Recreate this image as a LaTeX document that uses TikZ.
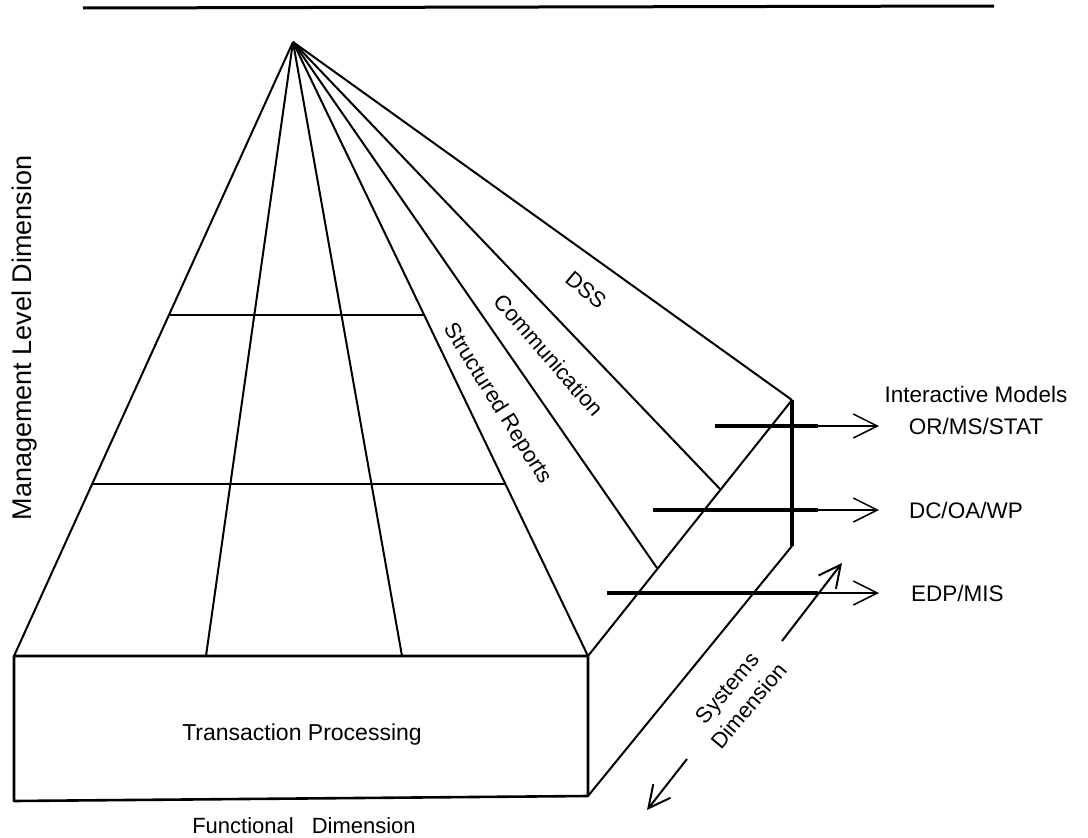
\documentclass[tikz,border=0pt]{standalone}
\usepackage{fontspec}
\setmainfont{Liberation Sans}
\usetikzlibrary{arrows.meta,calc}

\begin{document}
\begin{tikzpicture}[x=1pt,y=-1pt,line width=2pt,line join=round,
	lbl/.style={font=\fontsize{22}{28}\selectfont,inner sep=0pt},
	big lbl/.style={font=\fontsize{23}{28}\selectfont,inner sep=0pt},
	shaft/.style={line width=3.2pt},
	tip/.style={-{Straight Barb[length=24pt,width=24pt,line width=1.5pt]},line width=1.5pt},
	small tip/.style={-{Straight Barb[length=22pt,width=22pt,line width=2pt]},line width=2pt},
	boxedge/.style={line width=2.6pt}]

	\useasboundingbox (0,0) rectangle (1088,838);

	% pyramid corners
	\coordinate (apex) at (293,42);
	\coordinate (fl) at (14,656);
	\coordinate (f1) at (206,656);
	\coordinate (f2) at (402,656);
	\coordinate (fr) at (588,656);
	\coordinate (bl) at (14,801);
	\coordinate (br) at (588,796);
	\coordinate (s1) at (657,568);
	\coordinate (s2) at (720,489);
	\coordinate (st) at (792,400);
	\coordinate (sb) at (792,546);

	% rule on top
	\draw[line width=3pt] (83,8) -- (994,6);

	% faces
	\foreach \p in {fl,f1,f2,fr,s1,s2,st}
		\draw (apex) -- (\p);
	\draw ($(apex)!0.4446!(fl)$) -- ($(apex)!0.4446!(fr)$);
	\draw ($(apex)!0.7199!(fl)$) -- ($(apex)!0.7199!(fr)$);
	\draw[boxedge] (fl) -- (fr) -- (br) -- (bl) -- cycle;
	\draw (fr) -- (st);
	\draw (br) -- (sb);
	\draw[line width=3.8pt] (st) -- (sb);

	% system arrows
	\foreach \xs/\y in {715/426, 653/510, 607/593} {
		\draw[shaft] (\xs,\y) -- (818,\y);
		\draw[tip] (812,\y) -- (879,\y);
	}
	\draw[small tip] (782,641) -- (842,563);
	\draw[small tip] (687,759) -- (647,810);

	% labels
	\node[lbl,font=\fontsize{27}{32}\selectfont,rotate=90] (mgmt) at (25,338) {Management Level Dimension};
	\node[big lbl] (tp) at (302,735) {Transaction Processing};
	\node[lbl] (func) at (304,826) {Functional\hspace{18pt}Dimension};
	\node[lbl,rotate=-58] (sr) at (497,404) {Structured Reports};
	\node[lbl,rotate=-49] (comm) at (549,355) {Communication};
	\node[lbl,rotate=-40] (dss) at (586,290) {DSS};
	\node[lbl,font=\fontsize{22.5}{27}\selectfont,align=center] (im) at (976,410) {Interactive Models\\[5pt]OR/MS/STAT};
	\node[lbl,font=\fontsize{22.5}{27}\selectfont,anchor=west] (dc) at (908,510) {DC/OA/WP};
	\node[lbl,font=\fontsize{22.5}{27}\selectfont,anchor=west] (edp) at (910,593) {EDP/MIS};
	\node[lbl,rotate=50,align=center] (sys) at (738,697) {Systems\\Dimension};
\end{tikzpicture}
\end{document}
